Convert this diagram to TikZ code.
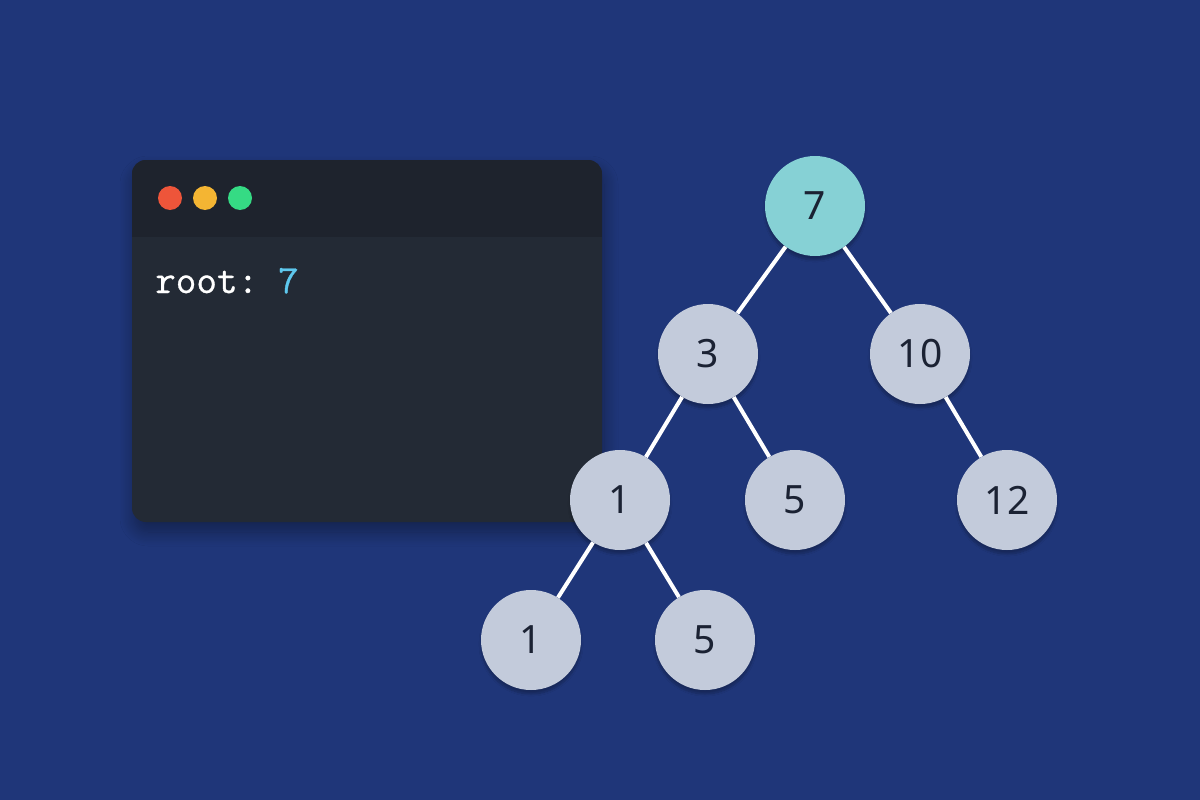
\documentclass[tikz,border=0pt]{standalone}
\usepackage{fontspec}
\setmainfont{Noto Sans}
\newfontfamily\codefont[FakeBold=0.8]{Latin Modern Mono}
\usetikzlibrary{shadows.blur}
\definecolor{bg}{HTML}{1F3679}
\definecolor{termbar}{HTML}{1E232D}
\definecolor{termbody}{HTML}{232A35}
\definecolor{dotred}{HTML}{EE553A}
\definecolor{dotyellow}{HTML}{F4B533}
\definecolor{dotgreen}{HTML}{35DB84}
\definecolor{nodefill}{HTML}{C3CBDB}
\definecolor{rootfill}{HTML}{86D1D5}
\definecolor{numtext}{HTML}{1B2233}
\definecolor{codeblue}{HTML}{5EC8EE}
\tikzset{
  treenode/.style={circle, fill=nodefill, minimum size=100pt, inner sep=0pt,
    text=numtext, font=\fontsize{39}{42}\selectfont,
    blur shadow={shadow xshift=0pt, shadow yshift=-4pt, shadow blur steps=8, shadow opacity=25}},
  rootnode/.style={treenode, fill=rootfill},
  edge/.style={draw=white, line width=4pt},
  winbtn/.style={circle, minimum size=24pt, inner sep=0pt}
}
\begin{document}
\begin{tikzpicture}[x=1pt,y=-1pt]
\fill[bg] (0,0) rectangle (1200,800);
\useasboundingbox (0,0) rectangle (1200,800);
% terminal window
\fill[termbody, rounded corners=14pt,
  blur shadow={shadow xshift=2pt, shadow yshift=-10pt, shadow blur radius=14pt, shadow blur steps=12, shadow opacity=35}]
  (132,160) rectangle (602,522);
\begin{scope}
\clip[rounded corners=14pt] (132,160) rectangle (602,522);
\fill[termbar] (132,160) rectangle (602,237);
\end{scope}
\node[winbtn, fill=dotred] (b1) at (170,198) {};
\node[winbtn, fill=dotyellow] (b2) at (205,198) {};
\node[winbtn, fill=dotgreen] (b3) at (240,198) {};
\node[anchor=base west, inner sep=0pt, text=white, font=\codefont\fontsize{40}{44}\selectfont] (code) at (155,293) {root:\hspace{0.5em}\textcolor{codeblue}{7}};
% tree
\node[rootnode] (n7) at (815,206) {7};
\node[treenode] (n3) at (708,354) {3};
\node[treenode] (n10) at (920,354) {10};
\node[treenode] (n1) at (620,500) {1};
\node[treenode] (n5) at (795,500) {5};
\node[treenode] (n12) at (1007,500) {12};
\node[treenode] (n1b) at (531,640) {1};
\node[treenode] (n5b) at (705,640) {5};
\draw[edge] (n7) -- (n3);
\draw[edge] (n7) -- (n10);
\draw[edge] (n3) -- (n1);
\draw[edge] (n3) -- (n5);
\draw[edge] (n10) -- (n12);
\draw[edge] (n1) -- (n1b);
\draw[edge] (n1) -- (n5b);
\end{tikzpicture}
\end{document}
